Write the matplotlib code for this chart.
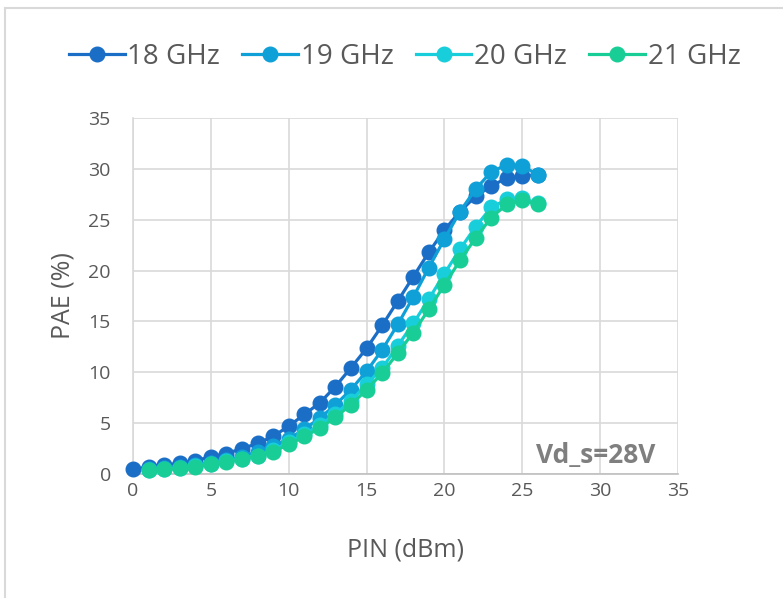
import matplotlib.pyplot as plt
from matplotlib.lines import Line2D

# --- data ---
pin_18 = list(range(0, 27))
pin_rest = list(range(1, 27))

pae_18 = [0.45, 0.7, 0.9, 1.05, 1.3, 1.7, 2.0, 2.5, 3.0, 3.7, 4.7, 5.85, 7.0, 8.6,
          10.45, 12.35, 14.6, 17.0, 19.4, 21.8, 24.0, 25.8, 27.3, 28.3, 29.1, 29.3, 29.4]
pae_19 = [0.45, 0.55, 0.7, 0.85, 1.1, 1.35, 1.7, 2.2, 2.75, 3.45, 4.4, 5.5, 6.8, 8.3,
          10.1, 12.2, 14.7, 17.4, 20.3, 23.1, 25.8, 28.0, 29.7, 30.4, 30.3, 29.4]
pae_20 = [0.4, 0.48, 0.58, 0.75, 1.0, 1.25, 1.5, 1.8, 2.35, 3.1, 3.9, 4.8, 5.9, 7.2,
          8.8, 10.4, 12.6, 14.8, 17.2, 19.7, 22.1, 24.3, 26.2, 27.0, 27.1, 26.6]
pae_21 = [0.38, 0.45, 0.55, 0.72, 0.95, 1.2, 1.45, 1.75, 2.2, 2.9, 3.7, 4.5, 5.6, 6.8,
          8.3, 9.9, 11.9, 13.9, 16.2, 18.6, 21.0, 23.2, 25.2, 26.5, 26.9, 26.5]

labels = ["18 GHz", "19 GHz", "20 GHz", "21 GHz"]
colors = ["#1B6EC6", "#0FA0D8", "#18CEDB", "#18CE96"]

x_ticks = [0, 5, 10, 15, 20, 25, 30, 35]
y_ticks = [0, 5, 10, 15, 20, 25, 30, 35]

TEXT = "#595959"
GRID = "#D9D9D9"

plt.rcParams['font.family'] = ['Open Sans', 'DejaVu Sans']

fig = plt.figure(figsize=(7.83, 5.98), dpi=100)
ax = fig.add_axes([0.1699, 0.2074, 0.6960, 0.5953])

series = [(pin_18, pae_18), (pin_rest, pae_19), (pin_rest, pae_20), (pin_rest, pae_21)]
for (xs, ys), lab, col in zip(series, labels, colors):
    ax.plot(xs, ys, '-o', color=col, lw=2.3, ms=10.5, label=lab, clip_on=False, zorder=3)

ax.set_xlim(0, 35)
ax.set_ylim(0, 35)
ax.set_xticks(x_ticks)
ax.set_yticks(y_ticks)
ax.grid(True, color=GRID, lw=1.2)
ax.set_axisbelow(True)
for side in ['top', 'right']:
    ax.spines[side].set_visible(False)
ax.spines['left'].set_color(GRID)
ax.spines['bottom'].set_color("#BFBFBF")
ax.spines['left'].set_linewidth(1.2)
ax.spines['bottom'].set_linewidth(1.2)
ax.tick_params(axis='both', length=0, labelsize=14, labelcolor=TEXT)
ax.tick_params(axis='y', pad=16)
ax.tick_params(axis='x', pad=6)

ax.set_xlabel("PIN (dBm)", fontsize=18, color=TEXT, labelpad=27)
ax.set_ylabel("PAE (%)", fontsize=18, color=TEXT, labelpad=9)

ax.text(0.958, 0.053, "Vd_s=28V", transform=ax.transAxes, ha='right', va='center',
        fontsize=19, fontweight='bold', color="#7F7F7F")

fig.legend(loc='center', bbox_to_anchor=(0.517, 0.905), ncol=4, frameon=False,
           fontsize=20, labelcolor=TEXT, handlelength=2.0, handletextpad=0.1,
           columnspacing=0.8)

# outer frame (top and left edges only are visible)
fig.add_artist(Line2D([5 / 783, 5 / 783], [0, 1 - 8 / 598], color=GRID, lw=1.5,
                      transform=fig.transFigure))
fig.add_artist(Line2D([5 / 783, 1], [1 - 8 / 598, 1 - 8 / 598], color=GRID, lw=1.5,
                      transform=fig.transFigure))

fig.savefig("out.png", dpi=100, facecolor='white')
